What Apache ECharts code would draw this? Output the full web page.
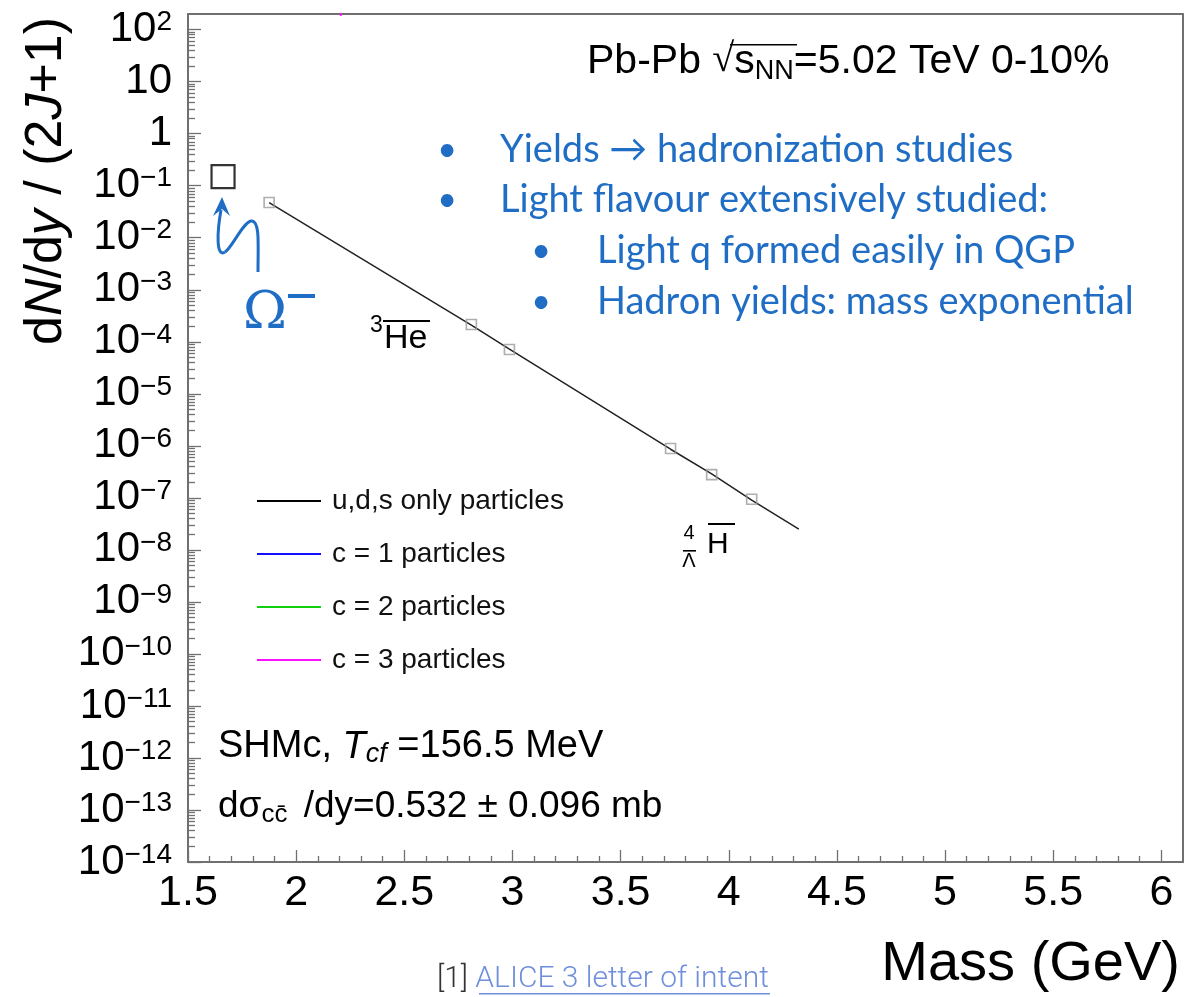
<!DOCTYPE html>
<html><head><meta charset="utf-8">
<script src="https://cdn.jsdelivr.net/npm/echarts@6/dist/echarts.min.js"></script>
<style>html,body{margin:0;padding:0;background:#fff}#c{width:1201px;height:997px}</style>
</head><body><div id="c"></div>
<script>
// ---- data ----
const markerMass  = [1.875, 2.810, 2.986, 3.731, 3.921, 4.106];
const markerYield = [4.75e-2, 2.15e-4, 7.1e-5, 8.9e-7, 2.8e-7, 9.4e-8];
const udsLineMass  = [1.875, 2.810, 2.986, 3.731, 3.921, 4.106, 4.324];
const udsLineYield = [4.75e-2, 2.1e-4, 7.2e-5, 8.6e-7, 2.9e-7, 9.0e-8, 2.5e-8];
const c3LineMass  = [2.196, 2.207];
const c3LineYield = [400, 185];
const omegaBoxMass = [1.662];
const omegaBoxYield = [0.15];
const legendNames = ['u,d,s only particles', 'c = 1 particles', 'c = 2 particles', 'c = 3 particles'];
const xTickValues = [1.5, 2, 2.5, 3, 3.5, 4, 4.5, 5, 5.5, 6];
const yTickValues = [1e-14, 1e-13, 1e-12, 1e-11, 1e-10, 1e-9, 1e-8, 1e-7, 1e-6, 1e-5, 1e-4, 1e-3, 1e-2, 1e-1, 1, 10, 100];

const yMinorTicks = [];
for (let n = -14; n <= 1; n++) for (let k = 2; k <= 9; k++) yMinorTicks.push(k * Math.pow(10, n));

const pairs = (xs, ys) => xs.map((x, i) => [x, ys[i]]);
const FONT = 'Liberation Sans';
const BLUE = '#1f6dc4';
const AX = '#707070';

const chart = echarts.init(document.getElementById('c'), null, {renderer: 'canvas'});

function yLabel(v) {
  const n = Math.round(Math.log10(v));
  if (n === 0) return '{b|1}';
  if (n === 1) return '{b|10}';
  return '{b|10}{sup|' + (n < 0 ? '\u2212' + (-n) : n) + '}';
}

const option = {
  animation: false,
  backgroundColor: '#fff',
  grid: {left: 188, right: 18, top: 14, bottom: 135},
  legend: {
    data: legendNames, orient: 'vertical', left: 252, top: 481,
    icon: 'rect', itemWidth: 64, itemHeight: 2, itemGap: 23,
    textStyle: {fontFamily: FONT, fontSize: 28, lineHeight: 30, color: '#111', padding: [0, 0, 0, 6]}
  },
  xAxis: [{
    type: 'value', min: 1.5, max: 6.1, interval: 0.5, position: 'bottom',
    axisLine: {show: true, lineStyle: {color: AX, width: 2}},
    axisTick: {show: true, inside: true, length: 12, lineStyle: {color: AX, width: 1.3}, customValues: xTickValues},
    minorTick: {show: true, splitNumber: 5, length: 6, lineStyle: {color: AX, width: 1.3}},
    axisLabel: {customValues: xTickValues, fontFamily: FONT, fontSize: 43, color: '#000', margin: 10,
      formatter: v => String(v)},
    splitLine: {show: false}
  }, {
    type: 'value', min: 1.5, max: 6.1, position: 'top',
    axisLine: {show: true, onZero: false, lineStyle: {color: AX, width: 2}},
    axisTick: {show: false}, axisLabel: {show: false}, splitLine: {show: false}
  }],
  yAxis: [{
    type: 'log', logBase: 10, min: 1e-14, max: 200, position: 'left',
    axisLine: {show: true, onZero: false, lineStyle: {color: AX, width: 2}},
    axisTick: {show: true, inside: true, length: 13, lineStyle: {color: AX, width: 1.3}, customValues: yTickValues},
    axisLabel: {customValues: yTickValues, fontFamily: FONT, fontSize: 42, color: '#000', margin: 16,
      formatter: yLabel,
      rich: {
        b: {fontFamily: FONT, fontSize: 42, lineHeight: 42, verticalAlign: 'bottom', color: '#000'},
        sup: {fontFamily: FONT, fontSize: 28, lineHeight: 20, verticalAlign: 'top', color: '#000'}
      }},
    splitLine: {show: false}
  }, {
    type: 'log', logBase: 10, min: 1e-14, max: 200, position: 'left',
    axisLine: {show: false},
    axisTick: {show: true, inside: true, length: 7, lineStyle: {color: AX, width: 1.3}, customValues: yMinorTicks},
    axisLabel: {show: false}, splitLine: {show: false}
  }, {
    type: 'log', logBase: 10, min: 1e-14, max: 200, position: 'right',
    axisLine: {show: true, onZero: false, lineStyle: {color: AX, width: 2}},
    axisTick: {show: false}, axisLabel: {show: false}, splitLine: {show: false}
  }],
  series: [
    {name: legendNames[0], type: 'line', data: pairs(udsLineMass, udsLineYield), showSymbol: false,
      color: '#000', lineStyle: {color: '#222', width: 1.5}, z: 2},
    {name: legendNames[1], type: 'line', data: [], showSymbol: false, color: '#1010ff', lineStyle: {width: 2}},
    {name: legendNames[2], type: 'line', data: [], showSymbol: false, color: '#10d010', lineStyle: {width: 2}},
    {name: legendNames[3], type: 'line', data: pairs(c3LineMass, c3LineYield), showSymbol: false, color: '#ff10ff', lineStyle: {width: 2}},
    {name: 'points', type: 'scatter', data: pairs(markerMass, markerYield), symbol: 'rect', symbolSize: 10,
      itemStyle: {color: 'rgba(255,255,255,0)', borderColor: '#9a9a9a', borderWidth: 1.6}, z: 4},
    {name: 'omegaBox', type: 'scatter', data: pairs(omegaBoxMass, omegaBoxYield), symbol: 'rect', symbolSize: 23,
      itemStyle: {color: 'rgba(255,255,255,0)', borderColor: '#000', borderWidth: 2.2}, z: 4}
  ],
  graphic: [
    // y-axis title
    {type: 'text', x: 47, y: 181, rotation: Math.PI / 2, style: {
      text: 'd{i|N}/d{i|y} / (2{i|J}+1)', fontFamily: FONT, fontSize: 52, fill: '#000',
      align: 'center', verticalAlign: 'middle',
      rich: {i: {fontFamily: FONT, fontSize: 52, fontStyle: 'italic', fill: '#000'}}}},
    // x-axis title
    {type: 'text', x: 1180, y: 965, style: {text: 'Mass (GeV)', fontFamily: FONT, fontSize: 56, fill: '#000',
      align: 'right', verticalAlign: 'middle'}},
    // header
    {type: 'text', x: 587, y: 63, style: {
      text: '{n|Pb-Pb }{r|\u221A}{n|s}{sub|NN}{n|=5.02 TeV 0-10%}', fontFamily: FONT, fontSize: 41, fill: '#000',
      verticalAlign: 'middle',
      rich: {
        n: {fontFamily: FONT, fontSize: 41, lineHeight: 44, verticalAlign: 'top', fill: '#000'},
        r: {fontFamily: 'DejaVu Sans', fontSize: 40, lineHeight: 44, verticalAlign: 'top', fill: '#000', fontWeight: 200},
        sub: {fontFamily: FONT, fontSize: 27, lineHeight: 22, verticalAlign: 'bottom', fill: '#000'}
      }}},
    {type: 'rect', shape: {x: 730, y: 44, width: 67, height: 1.6}, style: {fill: '#000'}},
    // blue bullets
    {type: 'text', x: 447, y: 150, style: {text: '\u2022', fontFamily: 'Lato', fontSize: 34, fill: BLUE, align: 'center', verticalAlign: 'middle'}},
    {type: 'text', x: 500, y: 150, style: {text: 'Yields \u2192 hadronization studies', fontFamily: 'Lato', fontSize: 38, fill: BLUE, verticalAlign: 'middle'}},
    {type: 'text', x: 447, y: 200, style: {text: '\u2022', fontFamily: 'Lato', fontSize: 34, fill: BLUE, align: 'center', verticalAlign: 'middle'}},
    {type: 'text', x: 500, y: 200, style: {text: 'Light flavour extensively studied:', fontFamily: 'Lato', fontSize: 38, fill: BLUE, verticalAlign: 'middle'}},
    {type: 'text', x: 541, y: 251, style: {text: '\u2022', fontFamily: 'Lato', fontSize: 34, fill: BLUE, align: 'center', verticalAlign: 'middle'}},
    {type: 'text', x: 597, y: 251, style: {text: 'Light q formed easily in QGP', fontFamily: 'Lato', fontSize: 38, fill: BLUE, verticalAlign: 'middle'}},
    {type: 'text', x: 541, y: 302, style: {text: '\u2022', fontFamily: 'Lato', fontSize: 34, fill: BLUE, align: 'center', verticalAlign: 'middle'}},
    {type: 'text', x: 597, y: 302, style: {text: 'Hadron yields: mass exponential', fontFamily: 'Lato', fontSize: 38, fill: BLUE, verticalAlign: 'middle'}},
    // Omega annotation
    {type: 'text', x: 243, y: 314, style: {text: '\u03A9', fontFamily: 'DejaVu Serif', fontSize: 53, fill: BLUE, verticalAlign: 'middle'}},
    {type: 'rect', shape: {x: 288, y: 294, width: 27, height: 4}, style: {fill: BLUE}},
    {type: 'bezierCurve', shape: {x1: 258, y1: 272, cpx1: 258, cpy1: 245, cpx2: 260, cpy2: 222, x2: 252, y2: 221},
      style: {stroke: BLUE, lineWidth: 3, fill: null}},
    {type: 'bezierCurve', shape: {x1: 252, y1: 221, cpx1: 244, cpy1: 220, cpx2: 232, cpy2: 248, x2: 225, y2: 252},
      style: {stroke: BLUE, lineWidth: 3, fill: null}},
    {type: 'bezierCurve', shape: {x1: 225, y1: 252, cpx1: 216, cpy1: 258, cpx2: 217, cpy2: 232, x2: 221, y2: 210},
      style: {stroke: BLUE, lineWidth: 3, fill: null}},
    {type: 'polygon', shape: {points: [[222, 197], [213, 216], [222, 209], [230, 216]]}, style: {fill: BLUE}},
    // 3He-bar label
    {type: 'text', x: 370, y: 326, style: {text: '3', fontFamily: FONT, fontSize: 23, fill: '#000', verticalAlign: 'middle'}},
    {type: 'text', x: 384, y: 339, style: {text: 'He', fontFamily: FONT, fontSize: 34, fill: '#000', verticalAlign: 'middle'}},
    {type: 'rect', shape: {x: 383, y: 320, width: 47, height: 2}, style: {fill: '#000'}},
    // 4 Lambda H-bar label
    {type: 'text', x: 689, y: 533, style: {text: '4', fontFamily: FONT, fontSize: 20, fill: '#000', align: 'center', verticalAlign: 'middle'}},
    {type: 'text', x: 689, y: 561, style: {text: '\u039B', fontFamily: FONT, fontSize: 20, fill: '#000', align: 'center', verticalAlign: 'middle'}},
    {type: 'rect', shape: {x: 683, y: 550, width: 13, height: 1.6}, style: {fill: '#000'}},
    {type: 'text', x: 707, y: 545, style: {text: 'H', fontFamily: FONT, fontSize: 30, fill: '#000', verticalAlign: 'middle'}},
    {type: 'rect', shape: {x: 708, y: 523, width: 27, height: 2}, style: {fill: '#000'}},
    // SHMc text
    {type: 'text', x: 218, y: 748, style: {
      text: '{n|SHMc, }{it|T}{sub|cf}{n| =156.5 MeV}', fontFamily: FONT, fontSize: 38, fill: '#000', verticalAlign: 'middle',
      rich: {
        n: {fontFamily: FONT, fontSize: 38, lineHeight: 40, verticalAlign: 'top', fill: '#000'},
        it: {fontFamily: FONT, fontSize: 38, lineHeight: 40, verticalAlign: 'top', fontStyle: 'italic', fill: '#000'},
        sub: {fontFamily: FONT, fontSize: 27, lineHeight: 20, verticalAlign: 'bottom', fontStyle: 'italic', fill: '#000'}
      }}},
    {type: 'text', x: 218, y: 808, style: {
      text: '{n|d\u03C3}{sub|cc\u0304}{n| /dy=0.532 \u00B1 0.096 mb}', fontFamily: FONT, fontSize: 37, fill: '#000', verticalAlign: 'middle',
      rich: {
        n: {fontFamily: FONT, fontSize: 37, lineHeight: 40, verticalAlign: 'top', fill: '#000'},
        sub: {fontFamily: FONT, fontSize: 26, lineHeight: 20, verticalAlign: 'bottom', fill: '#000', padding: [0, 6, 0, 0]}
      }}},
    // reference footnote
    {type: 'text', x: 437, y: 979, style: {
      text: '{a|[1] }{b|ALICE 3 letter of intent}', fontFamily: 'Roboto', fontSize: 30, verticalAlign: 'middle',
      rich: {
        a: {fontFamily: 'Roboto', fontSize: 30, fontWeight: 300, fill: '#333'},
        b: {fontFamily: 'Roboto', fontSize: 30, fontWeight: 300, fill: '#6f8fdc'}
      }}},
    {type: 'rect', shape: {x: 479, y: 993, width: 291, height: 1.5}, style: {fill: '#6f8fdc'}}
  ]
};
chart.setOption(option);
</script>
</body></html>
